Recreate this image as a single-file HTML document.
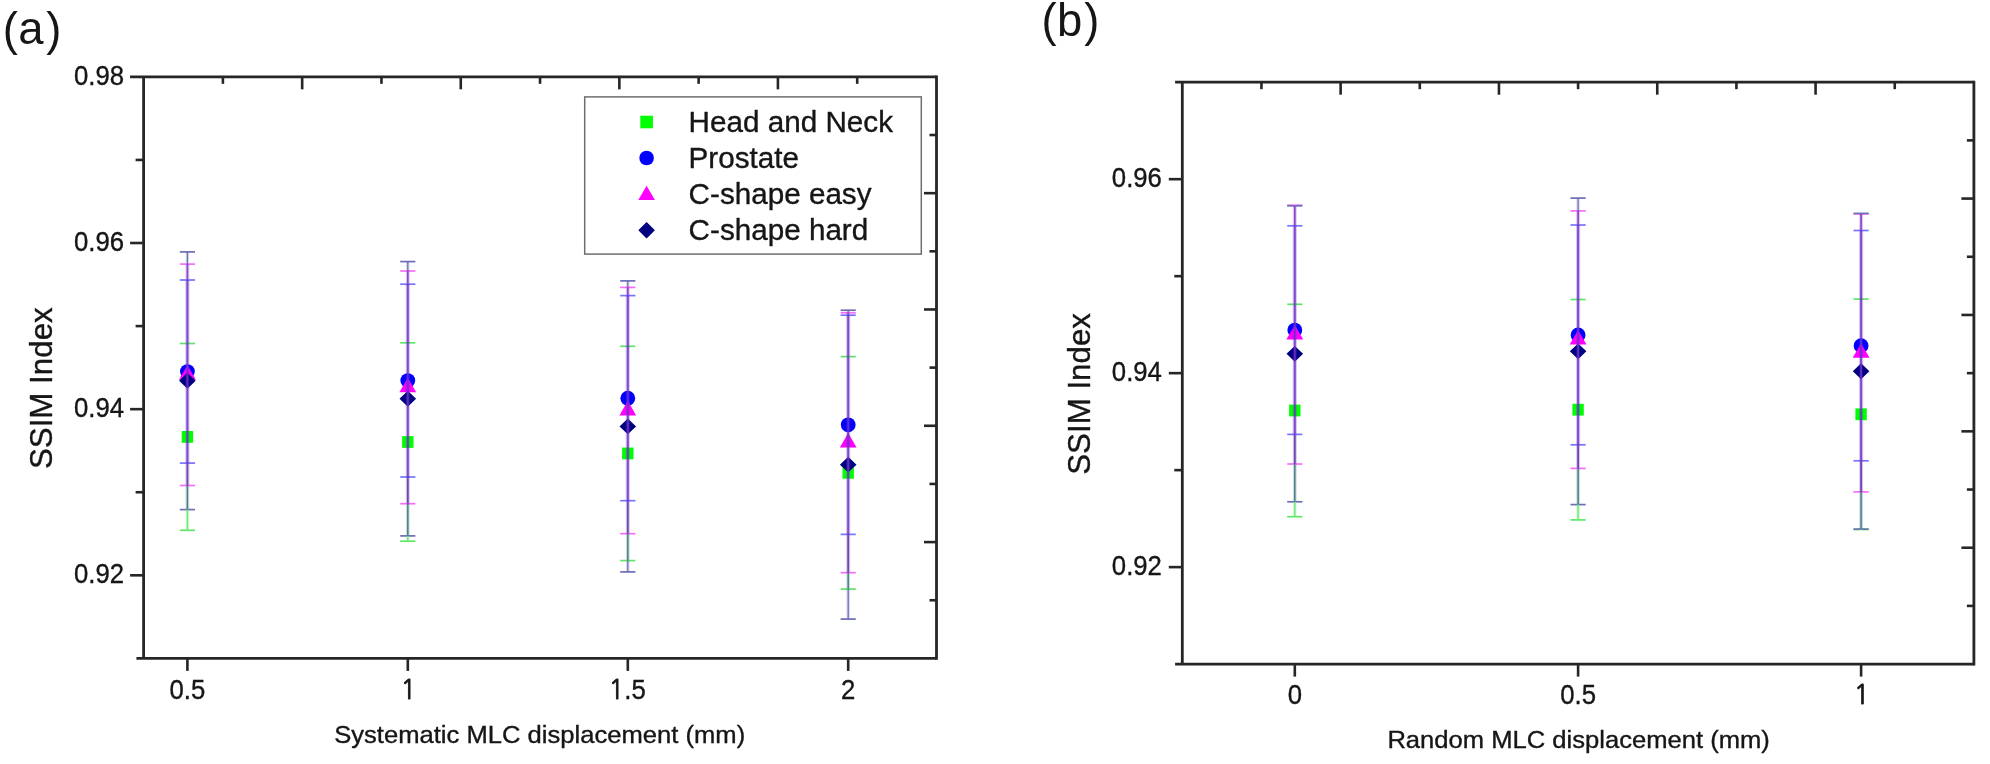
<!DOCTYPE html>
<html lang="en">
<head>
<meta charset="utf-8">
<title>SSIM Index vs MLC displacement</title>
<style>
html,body{margin:0;padding:0;background:#ffffff;}
body{width:1990px;height:764px;overflow:hidden;}
svg{display:block;}
</style>
</head>
<body>
<svg width="1990" height="764" viewBox="0 0 1990 764">
<defs><filter id="soft" x="0" y="0" width="100%" height="100%" filterUnits="userSpaceOnUse"><feGaussianBlur stdDeviation="0.7"/></filter></defs>
<rect width="1990" height="764" fill="#ffffff"/>
<g filter="url(#soft)">
<g stroke="#262626" stroke-width="2.8" fill="none" stroke-linecap="butt">
<path d="M143.6 76.85 V658.4 M936.5 75.45 V659.8"/>
<path d="M130.1 76.85 H936.5 M136.4 658.4 H936.5"/>
</g>
<g stroke="#262626" stroke-width="2.6" fill="none">
<path d="M222.89 76.85 v7"/>
<path d="M302.18 76.85 v12.5"/>
<path d="M381.47 76.85 v7"/>
<path d="M460.76 76.85 v12.5"/>
<path d="M540.05 76.85 v7"/>
<path d="M619.34 76.85 v12.5"/>
<path d="M698.63 76.85 v7"/>
<path d="M777.92 76.85 v12.5"/>
<path d="M857.21 76.85 v7"/>
<path d="M936.5 135 h-7"/>
<path d="M936.5 193.16 h-12.5"/>
<path d="M936.5 251.31 h-7"/>
<path d="M936.5 309.47 h-12.5"/>
<path d="M936.5 367.62 h-7"/>
<path d="M936.5 425.78 h-12.5"/>
<path d="M936.5 483.93 h-7"/>
<path d="M936.5 542.09 h-12.5"/>
<path d="M936.5 600.25 h-7"/>
<path d="M187.4 658.4 v12.5"/>
<path d="M407.8 658.4 v12.5"/>
<path d="M627.8 658.4 v12.5"/>
<path d="M848.2 658.4 v12.5"/>
<path d="M143.6 243.01 h-13.5"/>
<path d="M143.6 409.16 h-13.5"/>
<path d="M143.6 575.32 h-13.5"/>
<path d="M143.6 159.93 h-8"/>
<path d="M143.6 326.09 h-8"/>
<path d="M143.6 492.24 h-8"/>
</g>
<rect x="181.7" y="431" width="11.4" height="11.8" fill="#00ff00"/>
<circle cx="187.4" cy="371.55" r="7.4" fill="#0000ff"/>
<polygon points="187.4,365.1 195.8,379.65 179,379.65" fill="#ff00ff"/>
<polygon points="187.4,372.85 195.7,380.75 187.4,388.65 179.1,380.75" fill="#000080"/>
<line x1="179.8" y1="343.5" x2="195" y2="343.5" stroke="#5ee666" stroke-width="1.7"/>
<line x1="179.8" y1="530.3" x2="195" y2="530.3" stroke="#5ee666" stroke-width="1.7"/>
<line x1="179.8" y1="280" x2="195" y2="280" stroke="#7474ff" stroke-width="1.7"/>
<line x1="179.8" y1="463.1" x2="195" y2="463.1" stroke="#7474ff" stroke-width="1.7"/>
<line x1="179.8" y1="264.1" x2="195" y2="264.1" stroke="#f96cfb" stroke-width="1.7"/>
<line x1="179.8" y1="485.5" x2="195" y2="485.5" stroke="#f96cfb" stroke-width="1.7"/>
<line x1="179.8" y1="251.9" x2="195" y2="251.9" stroke="#6e6eb6" stroke-width="1.7"/>
<line x1="179.8" y1="509.6" x2="195" y2="509.6" stroke="#6e6eb6" stroke-width="1.7"/>
<line x1="187.4" y1="251.9" x2="187.4" y2="264.1" stroke="#6c6cba" stroke-opacity="0.28" stroke-width="3.4"/>
<line x1="187.4" y1="251.9" x2="187.4" y2="264.1" stroke="#6c6cba" stroke-width="1.2"/>
<line x1="187.4" y1="264.1" x2="187.4" y2="280" stroke="#8c44c8" stroke-opacity="0.28" stroke-width="3.9"/>
<line x1="187.4" y1="264.1" x2="187.4" y2="280" stroke="#8c44c8" stroke-width="1.7"/>
<line x1="187.4" y1="280" x2="187.4" y2="343.5" stroke="#6c30c8" stroke-opacity="0.28" stroke-width="4.2"/>
<line x1="187.4" y1="280" x2="187.4" y2="343.5" stroke="#6c30c8" stroke-opacity="0.84" stroke-width="2"/>
<line x1="187.4" y1="343.5" x2="187.4" y2="463.1" stroke="#6c30c8" stroke-opacity="0.28" stroke-width="4.2"/>
<line x1="187.4" y1="343.5" x2="187.4" y2="463.1" stroke="#6c30c8" stroke-opacity="0.84" stroke-width="2"/>
<line x1="187.4" y1="463.1" x2="187.4" y2="485.5" stroke="#6e44b4" stroke-opacity="0.28" stroke-width="4"/>
<line x1="187.4" y1="463.1" x2="187.4" y2="485.5" stroke="#6e44b4" stroke-width="1.8"/>
<line x1="187.4" y1="485.5" x2="187.4" y2="509.6" stroke="#4a8088" stroke-opacity="0.28" stroke-width="3.7"/>
<line x1="187.4" y1="485.5" x2="187.4" y2="509.6" stroke="#4a8088" stroke-width="1.5"/>
<line x1="187.4" y1="509.6" x2="187.4" y2="530.3" stroke="#6ee876" stroke-opacity="0.28" stroke-width="3.6"/>
<line x1="187.4" y1="509.6" x2="187.4" y2="530.3" stroke="#6ee876" stroke-width="1.4"/>
<rect x="402.1" y="436.1" width="11.4" height="11.8" fill="#00ff00"/>
<circle cx="407.8" cy="380.6" r="7.4" fill="#0000ff"/>
<polygon points="407.8,377.65 416.2,392.2 399.4,392.2" fill="#ff00ff"/>
<polygon points="407.8,390.85 416.1,398.75 407.8,406.65 399.5,398.75" fill="#000080"/>
<line x1="400.2" y1="342.8" x2="415.4" y2="342.8" stroke="#5ee666" stroke-width="1.7"/>
<line x1="400.2" y1="541.2" x2="415.4" y2="541.2" stroke="#5ee666" stroke-width="1.7"/>
<line x1="400.2" y1="284.2" x2="415.4" y2="284.2" stroke="#7474ff" stroke-width="1.7"/>
<line x1="400.2" y1="477" x2="415.4" y2="477" stroke="#7474ff" stroke-width="1.7"/>
<line x1="400.2" y1="271" x2="415.4" y2="271" stroke="#f96cfb" stroke-width="1.7"/>
<line x1="400.2" y1="503.7" x2="415.4" y2="503.7" stroke="#f96cfb" stroke-width="1.7"/>
<line x1="400.2" y1="261.6" x2="415.4" y2="261.6" stroke="#6e6eb6" stroke-width="1.7"/>
<line x1="400.2" y1="535.9" x2="415.4" y2="535.9" stroke="#6e6eb6" stroke-width="1.7"/>
<line x1="407.8" y1="261.6" x2="407.8" y2="271" stroke="#6c6cba" stroke-opacity="0.28" stroke-width="3.4"/>
<line x1="407.8" y1="261.6" x2="407.8" y2="271" stroke="#6c6cba" stroke-width="1.2"/>
<line x1="407.8" y1="271" x2="407.8" y2="284.2" stroke="#8c44c8" stroke-opacity="0.28" stroke-width="3.9"/>
<line x1="407.8" y1="271" x2="407.8" y2="284.2" stroke="#8c44c8" stroke-width="1.7"/>
<line x1="407.8" y1="284.2" x2="407.8" y2="342.8" stroke="#6c30c8" stroke-opacity="0.28" stroke-width="4.2"/>
<line x1="407.8" y1="284.2" x2="407.8" y2="342.8" stroke="#6c30c8" stroke-opacity="0.84" stroke-width="2"/>
<line x1="407.8" y1="342.8" x2="407.8" y2="477" stroke="#6c30c8" stroke-opacity="0.28" stroke-width="4.2"/>
<line x1="407.8" y1="342.8" x2="407.8" y2="477" stroke="#6c30c8" stroke-opacity="0.84" stroke-width="2"/>
<line x1="407.8" y1="477" x2="407.8" y2="503.7" stroke="#6e44b4" stroke-opacity="0.28" stroke-width="4"/>
<line x1="407.8" y1="477" x2="407.8" y2="503.7" stroke="#6e44b4" stroke-width="1.8"/>
<line x1="407.8" y1="503.7" x2="407.8" y2="535.9" stroke="#4a8088" stroke-opacity="0.28" stroke-width="3.7"/>
<line x1="407.8" y1="503.7" x2="407.8" y2="535.9" stroke="#4a8088" stroke-width="1.5"/>
<line x1="407.8" y1="535.9" x2="407.8" y2="541.2" stroke="#6ee876" stroke-opacity="0.28" stroke-width="3.6"/>
<line x1="407.8" y1="535.9" x2="407.8" y2="541.2" stroke="#6ee876" stroke-width="1.4"/>
<rect x="622.1" y="447.55" width="11.4" height="11.8" fill="#00ff00"/>
<circle cx="627.8" cy="398.15" r="7.4" fill="#0000ff"/>
<polygon points="627.8,400.85 636.2,415.4 619.4,415.4" fill="#ff00ff"/>
<polygon points="627.8,418.5 636.1,426.4 627.8,434.3 619.5,426.4" fill="#000080"/>
<line x1="620.2" y1="346.3" x2="635.4" y2="346.3" stroke="#5ee666" stroke-width="1.7"/>
<line x1="620.2" y1="560.6" x2="635.4" y2="560.6" stroke="#5ee666" stroke-width="1.7"/>
<line x1="620.2" y1="295.6" x2="635.4" y2="295.6" stroke="#7474ff" stroke-width="1.7"/>
<line x1="620.2" y1="500.7" x2="635.4" y2="500.7" stroke="#7474ff" stroke-width="1.7"/>
<line x1="620.2" y1="287.4" x2="635.4" y2="287.4" stroke="#f96cfb" stroke-width="1.7"/>
<line x1="620.2" y1="533.7" x2="635.4" y2="533.7" stroke="#f96cfb" stroke-width="1.7"/>
<line x1="620.2" y1="280.9" x2="635.4" y2="280.9" stroke="#6e6eb6" stroke-width="1.7"/>
<line x1="620.2" y1="571.9" x2="635.4" y2="571.9" stroke="#6e6eb6" stroke-width="1.7"/>
<line x1="627.8" y1="280.9" x2="627.8" y2="287.4" stroke="#6c6cba" stroke-opacity="0.28" stroke-width="3.4"/>
<line x1="627.8" y1="280.9" x2="627.8" y2="287.4" stroke="#6c6cba" stroke-width="1.2"/>
<line x1="627.8" y1="287.4" x2="627.8" y2="295.6" stroke="#8c44c8" stroke-opacity="0.28" stroke-width="3.9"/>
<line x1="627.8" y1="287.4" x2="627.8" y2="295.6" stroke="#8c44c8" stroke-width="1.7"/>
<line x1="627.8" y1="295.6" x2="627.8" y2="346.3" stroke="#6c30c8" stroke-opacity="0.28" stroke-width="4.2"/>
<line x1="627.8" y1="295.6" x2="627.8" y2="346.3" stroke="#6c30c8" stroke-opacity="0.84" stroke-width="2"/>
<line x1="627.8" y1="346.3" x2="627.8" y2="500.7" stroke="#6c30c8" stroke-opacity="0.28" stroke-width="4.2"/>
<line x1="627.8" y1="346.3" x2="627.8" y2="500.7" stroke="#6c30c8" stroke-opacity="0.84" stroke-width="2"/>
<line x1="627.8" y1="500.7" x2="627.8" y2="533.7" stroke="#6e44b4" stroke-opacity="0.28" stroke-width="4"/>
<line x1="627.8" y1="500.7" x2="627.8" y2="533.7" stroke="#6e44b4" stroke-width="1.8"/>
<line x1="627.8" y1="533.7" x2="627.8" y2="560.6" stroke="#4a8088" stroke-opacity="0.28" stroke-width="3.7"/>
<line x1="627.8" y1="533.7" x2="627.8" y2="560.6" stroke="#4a8088" stroke-width="1.5"/>
<line x1="627.8" y1="560.6" x2="627.8" y2="571.9" stroke="#6c6cba" stroke-opacity="0.28" stroke-width="3.4"/>
<line x1="627.8" y1="560.6" x2="627.8" y2="571.9" stroke="#6c6cba" stroke-width="1.2"/>
<rect x="842.5" y="466.95" width="11.4" height="11.8" fill="#00ff00"/>
<circle cx="848.2" cy="424.8" r="7.4" fill="#0000ff"/>
<polygon points="848.2,433.05 856.6,447.6 839.8,447.6" fill="#ff00ff"/>
<polygon points="848.2,456.75 856.5,464.65 848.2,472.55 839.9,464.65" fill="#000080"/>
<line x1="840.6" y1="356.6" x2="855.8" y2="356.6" stroke="#5ee666" stroke-width="1.7"/>
<line x1="840.6" y1="589.1" x2="855.8" y2="589.1" stroke="#5ee666" stroke-width="1.7"/>
<line x1="840.6" y1="315.2" x2="855.8" y2="315.2" stroke="#7474ff" stroke-width="1.7"/>
<line x1="840.6" y1="534.4" x2="855.8" y2="534.4" stroke="#7474ff" stroke-width="1.7"/>
<line x1="840.6" y1="312.8" x2="855.8" y2="312.8" stroke="#f96cfb" stroke-width="1.7"/>
<line x1="840.6" y1="572.7" x2="855.8" y2="572.7" stroke="#f96cfb" stroke-width="1.7"/>
<line x1="840.6" y1="310.2" x2="855.8" y2="310.2" stroke="#6e6eb6" stroke-width="1.7"/>
<line x1="840.6" y1="619.1" x2="855.8" y2="619.1" stroke="#6e6eb6" stroke-width="1.7"/>
<line x1="848.2" y1="310.2" x2="848.2" y2="312.8" stroke="#6c6cba" stroke-opacity="0.28" stroke-width="3.4"/>
<line x1="848.2" y1="310.2" x2="848.2" y2="312.8" stroke="#6c6cba" stroke-width="1.2"/>
<line x1="848.2" y1="312.8" x2="848.2" y2="315.2" stroke="#8c44c8" stroke-opacity="0.28" stroke-width="3.9"/>
<line x1="848.2" y1="312.8" x2="848.2" y2="315.2" stroke="#8c44c8" stroke-width="1.7"/>
<line x1="848.2" y1="315.2" x2="848.2" y2="356.6" stroke="#6c30c8" stroke-opacity="0.28" stroke-width="4.2"/>
<line x1="848.2" y1="315.2" x2="848.2" y2="356.6" stroke="#6c30c8" stroke-opacity="0.84" stroke-width="2"/>
<line x1="848.2" y1="356.6" x2="848.2" y2="534.4" stroke="#6c30c8" stroke-opacity="0.28" stroke-width="4.2"/>
<line x1="848.2" y1="356.6" x2="848.2" y2="534.4" stroke="#6c30c8" stroke-opacity="0.84" stroke-width="2"/>
<line x1="848.2" y1="534.4" x2="848.2" y2="572.7" stroke="#6e44b4" stroke-opacity="0.28" stroke-width="4"/>
<line x1="848.2" y1="534.4" x2="848.2" y2="572.7" stroke="#6e44b4" stroke-width="1.8"/>
<line x1="848.2" y1="572.7" x2="848.2" y2="589.1" stroke="#4a8088" stroke-opacity="0.28" stroke-width="3.7"/>
<line x1="848.2" y1="572.7" x2="848.2" y2="589.1" stroke="#4a8088" stroke-width="1.5"/>
<line x1="848.2" y1="589.1" x2="848.2" y2="619.1" stroke="#6c6cba" stroke-opacity="0.28" stroke-width="3.4"/>
<line x1="848.2" y1="589.1" x2="848.2" y2="619.1" stroke="#6c6cba" stroke-width="1.2"/>
<g stroke="#262626" stroke-width="2.8" fill="none" stroke-linecap="butt">
<path d="M1182.3 82.2 V664.1 M1973.9 80.8 V665.5"/>
<path d="M1175.1 82.2 H1973.9 M1175.1 664.1 H1973.9"/>
</g>
<g stroke="#262626" stroke-width="2.6" fill="none">
<path d="M1261.46 82.2 v7"/>
<path d="M1340.62 82.2 v12.5"/>
<path d="M1419.78 82.2 v7"/>
<path d="M1498.94 82.2 v12.5"/>
<path d="M1578.1 82.2 v7"/>
<path d="M1657.26 82.2 v12.5"/>
<path d="M1736.42 82.2 v7"/>
<path d="M1815.58 82.2 v12.5"/>
<path d="M1894.74 82.2 v7"/>
<path d="M1973.9 140.39 h-7"/>
<path d="M1973.9 198.58 h-12.5"/>
<path d="M1973.9 256.77 h-7"/>
<path d="M1973.9 314.96 h-12.5"/>
<path d="M1973.9 373.15 h-7"/>
<path d="M1973.9 431.34 h-12.5"/>
<path d="M1973.9 489.53 h-7"/>
<path d="M1973.9 547.72 h-12.5"/>
<path d="M1973.9 605.91 h-7"/>
<path d="M1294.8 664.1 v12.5"/>
<path d="M1578.1 664.1 v12.5"/>
<path d="M1861.1 664.1 v12.5"/>
<path d="M1182.3 179.18 h-13.5"/>
<path d="M1182.3 373.15 h-13.5"/>
<path d="M1182.3 567.12 h-13.5"/>
<path d="M1182.3 276.17 h-8"/>
<path d="M1182.3 470.13 h-8"/>
</g>
<rect x="1289.1" y="404.6" width="11.4" height="11.8" fill="#00ff00"/>
<circle cx="1294.8" cy="330.1" r="7.4" fill="#0000ff"/>
<polygon points="1294.8,324.9 1303.2,339.45 1286.4,339.45" fill="#ff00ff"/>
<polygon points="1294.8,345.9 1303.1,353.8 1294.8,361.7 1286.5,353.8" fill="#000080"/>
<line x1="1287.2" y1="304.3" x2="1302.4" y2="304.3" stroke="#5ee666" stroke-width="1.7"/>
<line x1="1287.2" y1="516.7" x2="1302.4" y2="516.7" stroke="#5ee666" stroke-width="1.7"/>
<line x1="1287.2" y1="225.8" x2="1302.4" y2="225.8" stroke="#7474ff" stroke-width="1.7"/>
<line x1="1287.2" y1="434.4" x2="1302.4" y2="434.4" stroke="#7474ff" stroke-width="1.7"/>
<line x1="1287.2" y1="205.2" x2="1302.4" y2="205.2" stroke="#f96cfb" stroke-width="1.7"/>
<line x1="1287.2" y1="464" x2="1302.4" y2="464" stroke="#f96cfb" stroke-width="1.7"/>
<line x1="1287.2" y1="205.8" x2="1302.4" y2="205.8" stroke="#6e6eb6" stroke-width="1.7"/>
<line x1="1287.2" y1="501.8" x2="1302.4" y2="501.8" stroke="#6e6eb6" stroke-width="1.7"/>
<line x1="1294.8" y1="205.2" x2="1294.8" y2="205.8" stroke="#ff6cff" stroke-opacity="0.28" stroke-width="3.4"/>
<line x1="1294.8" y1="205.2" x2="1294.8" y2="205.8" stroke="#ff6cff" stroke-width="1.2"/>
<line x1="1294.8" y1="205.8" x2="1294.8" y2="225.8" stroke="#8c44c8" stroke-opacity="0.28" stroke-width="3.9"/>
<line x1="1294.8" y1="205.8" x2="1294.8" y2="225.8" stroke="#8c44c8" stroke-width="1.7"/>
<line x1="1294.8" y1="225.8" x2="1294.8" y2="304.3" stroke="#6c30c8" stroke-opacity="0.28" stroke-width="4.2"/>
<line x1="1294.8" y1="225.8" x2="1294.8" y2="304.3" stroke="#6c30c8" stroke-opacity="0.84" stroke-width="2"/>
<line x1="1294.8" y1="304.3" x2="1294.8" y2="434.4" stroke="#6c30c8" stroke-opacity="0.28" stroke-width="4.2"/>
<line x1="1294.8" y1="304.3" x2="1294.8" y2="434.4" stroke="#6c30c8" stroke-opacity="0.84" stroke-width="2"/>
<line x1="1294.8" y1="434.4" x2="1294.8" y2="464" stroke="#6e44b4" stroke-opacity="0.28" stroke-width="4"/>
<line x1="1294.8" y1="434.4" x2="1294.8" y2="464" stroke="#6e44b4" stroke-width="1.8"/>
<line x1="1294.8" y1="464" x2="1294.8" y2="501.8" stroke="#4a8088" stroke-opacity="0.28" stroke-width="3.7"/>
<line x1="1294.8" y1="464" x2="1294.8" y2="501.8" stroke="#4a8088" stroke-width="1.5"/>
<line x1="1294.8" y1="501.8" x2="1294.8" y2="516.7" stroke="#6ee876" stroke-opacity="0.28" stroke-width="3.6"/>
<line x1="1294.8" y1="501.8" x2="1294.8" y2="516.7" stroke="#6ee876" stroke-width="1.4"/>
<rect x="1572.4" y="403.8" width="11.4" height="11.8" fill="#00ff00"/>
<circle cx="1578.1" cy="334.9" r="7.4" fill="#0000ff"/>
<polygon points="1578.1,329.95 1586.5,344.5 1569.7,344.5" fill="#ff00ff"/>
<polygon points="1578.1,343.45 1586.4,351.35 1578.1,359.25 1569.8,351.35" fill="#000080"/>
<line x1="1570.5" y1="299.5" x2="1585.7" y2="299.5" stroke="#5ee666" stroke-width="1.7"/>
<line x1="1570.5" y1="519.9" x2="1585.7" y2="519.9" stroke="#5ee666" stroke-width="1.7"/>
<line x1="1570.5" y1="225" x2="1585.7" y2="225" stroke="#7474ff" stroke-width="1.7"/>
<line x1="1570.5" y1="444.8" x2="1585.7" y2="444.8" stroke="#7474ff" stroke-width="1.7"/>
<line x1="1570.5" y1="210.9" x2="1585.7" y2="210.9" stroke="#f96cfb" stroke-width="1.7"/>
<line x1="1570.5" y1="468.4" x2="1585.7" y2="468.4" stroke="#f96cfb" stroke-width="1.7"/>
<line x1="1570.5" y1="198.1" x2="1585.7" y2="198.1" stroke="#6e6eb6" stroke-width="1.7"/>
<line x1="1570.5" y1="504.6" x2="1585.7" y2="504.6" stroke="#6e6eb6" stroke-width="1.7"/>
<line x1="1578.1" y1="198.1" x2="1578.1" y2="210.9" stroke="#6c6cba" stroke-opacity="0.28" stroke-width="3.4"/>
<line x1="1578.1" y1="198.1" x2="1578.1" y2="210.9" stroke="#6c6cba" stroke-width="1.2"/>
<line x1="1578.1" y1="210.9" x2="1578.1" y2="225" stroke="#8c44c8" stroke-opacity="0.28" stroke-width="3.9"/>
<line x1="1578.1" y1="210.9" x2="1578.1" y2="225" stroke="#8c44c8" stroke-width="1.7"/>
<line x1="1578.1" y1="225" x2="1578.1" y2="299.5" stroke="#6c30c8" stroke-opacity="0.28" stroke-width="4.2"/>
<line x1="1578.1" y1="225" x2="1578.1" y2="299.5" stroke="#6c30c8" stroke-opacity="0.84" stroke-width="2"/>
<line x1="1578.1" y1="299.5" x2="1578.1" y2="444.8" stroke="#6c30c8" stroke-opacity="0.28" stroke-width="4.2"/>
<line x1="1578.1" y1="299.5" x2="1578.1" y2="444.8" stroke="#6c30c8" stroke-opacity="0.84" stroke-width="2"/>
<line x1="1578.1" y1="444.8" x2="1578.1" y2="468.4" stroke="#6e44b4" stroke-opacity="0.28" stroke-width="4"/>
<line x1="1578.1" y1="444.8" x2="1578.1" y2="468.4" stroke="#6e44b4" stroke-width="1.8"/>
<line x1="1578.1" y1="468.4" x2="1578.1" y2="504.6" stroke="#4a8088" stroke-opacity="0.28" stroke-width="3.7"/>
<line x1="1578.1" y1="468.4" x2="1578.1" y2="504.6" stroke="#4a8088" stroke-width="1.5"/>
<line x1="1578.1" y1="504.6" x2="1578.1" y2="519.9" stroke="#6ee876" stroke-opacity="0.28" stroke-width="3.6"/>
<line x1="1578.1" y1="504.6" x2="1578.1" y2="519.9" stroke="#6ee876" stroke-width="1.4"/>
<rect x="1855.4" y="408.4" width="11.4" height="11.8" fill="#00ff00"/>
<circle cx="1861.1" cy="345.65" r="7.4" fill="#0000ff"/>
<polygon points="1861.1,343.2 1869.5,357.75 1852.7,357.75" fill="#ff00ff"/>
<polygon points="1861.1,363.35 1869.4,371.25 1861.1,379.15 1852.8,371.25" fill="#000080"/>
<line x1="1853.5" y1="299.1" x2="1868.7" y2="299.1" stroke="#5ee666" stroke-width="1.7"/>
<line x1="1853.5" y1="529.5" x2="1868.7" y2="529.5" stroke="#5ee666" stroke-width="1.7"/>
<line x1="1853.5" y1="230.5" x2="1868.7" y2="230.5" stroke="#7474ff" stroke-width="1.7"/>
<line x1="1853.5" y1="460.8" x2="1868.7" y2="460.8" stroke="#7474ff" stroke-width="1.7"/>
<line x1="1853.5" y1="213.9" x2="1868.7" y2="213.9" stroke="#f96cfb" stroke-width="1.7"/>
<line x1="1853.5" y1="491.9" x2="1868.7" y2="491.9" stroke="#f96cfb" stroke-width="1.7"/>
<line x1="1853.5" y1="213.4" x2="1868.7" y2="213.4" stroke="#6e6eb6" stroke-width="1.7"/>
<line x1="1853.5" y1="529.1" x2="1868.7" y2="529.1" stroke="#6e6eb6" stroke-width="1.7"/>
<line x1="1861.1" y1="213.4" x2="1861.1" y2="213.9" stroke="#6c6cba" stroke-opacity="0.28" stroke-width="3.4"/>
<line x1="1861.1" y1="213.4" x2="1861.1" y2="213.9" stroke="#6c6cba" stroke-width="1.2"/>
<line x1="1861.1" y1="213.9" x2="1861.1" y2="230.5" stroke="#8c44c8" stroke-opacity="0.28" stroke-width="3.9"/>
<line x1="1861.1" y1="213.9" x2="1861.1" y2="230.5" stroke="#8c44c8" stroke-width="1.7"/>
<line x1="1861.1" y1="230.5" x2="1861.1" y2="299.1" stroke="#6c30c8" stroke-opacity="0.28" stroke-width="4.2"/>
<line x1="1861.1" y1="230.5" x2="1861.1" y2="299.1" stroke="#6c30c8" stroke-opacity="0.84" stroke-width="2"/>
<line x1="1861.1" y1="299.1" x2="1861.1" y2="460.8" stroke="#6c30c8" stroke-opacity="0.28" stroke-width="4.2"/>
<line x1="1861.1" y1="299.1" x2="1861.1" y2="460.8" stroke="#6c30c8" stroke-opacity="0.84" stroke-width="2"/>
<line x1="1861.1" y1="460.8" x2="1861.1" y2="491.9" stroke="#6e44b4" stroke-opacity="0.28" stroke-width="4"/>
<line x1="1861.1" y1="460.8" x2="1861.1" y2="491.9" stroke="#6e44b4" stroke-width="1.8"/>
<line x1="1861.1" y1="491.9" x2="1861.1" y2="529.1" stroke="#4a8088" stroke-opacity="0.28" stroke-width="3.7"/>
<line x1="1861.1" y1="491.9" x2="1861.1" y2="529.1" stroke="#4a8088" stroke-width="1.5"/>
<line x1="1861.1" y1="529.1" x2="1861.1" y2="529.5" stroke="#6ee876" stroke-opacity="0.28" stroke-width="3.6"/>
<line x1="1861.1" y1="529.1" x2="1861.1" y2="529.5" stroke="#6ee876" stroke-width="1.4"/>
<rect x="584.7" y="96.9" width="336.6" height="157.2" fill="#ffffff" stroke="#6e6e6e" stroke-width="1.5"/>
<rect x="640.3" y="115.7" width="12.6" height="12.6" fill="#00ff00"/>
<circle cx="646.6" cy="158" r="7.3" fill="#0000ff"/>
<polygon points="646.6,185.8 654.9,200 638.3,200" fill="#ff00ff"/>
<polygon points="646.6,222.1 654.9,230.3 646.6,238.5 638.3,230.3" fill="#000080"/>
<g font-family="'Liberation Sans', sans-serif" fill="#141414" stroke="#141414" stroke-width="0.35" stroke-linejoin="round">
<text x="2.8" y="44.2" font-size="45.4" stroke="none"><tspan font-size="45.4" dy="0.3">(</tspan><tspan dx="0.4" dy="-0.3">a</tspan><tspan font-size="45.4" dx="2.6" dy="0.3">)</tspan></text>
<text x="1041.5" y="35.8" font-size="45.4" stroke="none"><tspan font-size="45.4" dy="0.3">(</tspan><tspan dx="0.3" dy="-0.3">b</tspan><tspan font-size="45.4" dx="2.0" dy="0.3">)</tspan></text>
<text transform="translate(688.6 131.7) scale(1.03 1)" font-size="28.8">Head and Neck</text>
<text transform="translate(688.6 167.6) scale(1.03 1)" font-size="28.8">Prostate</text>
<text transform="translate(688.6 203.6) scale(1.03 1)" font-size="28.8">C-shape easy</text>
<text transform="translate(688.6 240.1) scale(1.03 1)" font-size="28.8">C-shape hard</text>
<text transform="translate(124.1 84.65) scale(0.96 1)" font-size="26.8" text-anchor="end">0.98</text>
<text transform="translate(124.1 250.81) scale(0.96 1)" font-size="26.8" text-anchor="end">0.96</text>
<text transform="translate(124.1 416.96) scale(0.96 1)" font-size="26.8" text-anchor="end">0.94</text>
<text transform="translate(124.1 583.12) scale(0.96 1)" font-size="26.8" text-anchor="end">0.92</text>
<text transform="translate(1161.9 187.08) scale(0.96 1)" font-size="26.8" text-anchor="end">0.96</text>
<text transform="translate(1161.9 381.05) scale(0.96 1)" font-size="26.8" text-anchor="end">0.94</text>
<text transform="translate(1161.9 575.02) scale(0.96 1)" font-size="26.8" text-anchor="end">0.92</text>
<text transform="translate(187.4 699) scale(0.96 1)" font-size="26.8" text-anchor="middle">0.5</text>
<text transform="translate(408.3 699) scale(0.96 1)" font-size="27.1" text-anchor="middle" font-family="NanumGothic, 'Liberation Sans', sans-serif" stroke="#141414" stroke-width="0.75">1</text>
<text transform="translate(627.2 699) scale(0.96 1)" font-size="26.8" text-anchor="middle"><tspan font-size="27.1" font-family="NanumGothic, 'Liberation Sans', sans-serif" stroke="#141414" stroke-width="0.75">1</tspan>.5</text>
<text transform="translate(848.2 699) scale(0.96 1)" font-size="26.8" text-anchor="middle">2</text>
<text transform="translate(1294.8 704.4) scale(0.96 1)" font-size="26.8" text-anchor="middle">0</text>
<text transform="translate(1578.1 704.4) scale(0.96 1)" font-size="26.8" text-anchor="middle">0.5</text>
<text transform="translate(1861.6 704.4) scale(0.96 1)" font-size="27.1" text-anchor="middle" font-family="NanumGothic, 'Liberation Sans', sans-serif" stroke="#141414" stroke-width="0.75">1</text>
<text x="334.2" y="743.1" font-size="24.4" textLength="411" lengthAdjust="spacingAndGlyphs">Systematic MLC displacement (mm)</text>
<text x="1387.4" y="748" font-size="24.2" textLength="382.4" lengthAdjust="spacingAndGlyphs">Random MLC displacement (mm)</text>
<text transform="translate(52.3 388.2) rotate(-90)" font-size="31.3" text-anchor="middle">SSIM Index</text>
<text transform="translate(1090.2 393.9) rotate(-90)" font-size="31.3" text-anchor="middle">SSIM Index</text>
</g>
</g>
</svg>
</body>
</html>
